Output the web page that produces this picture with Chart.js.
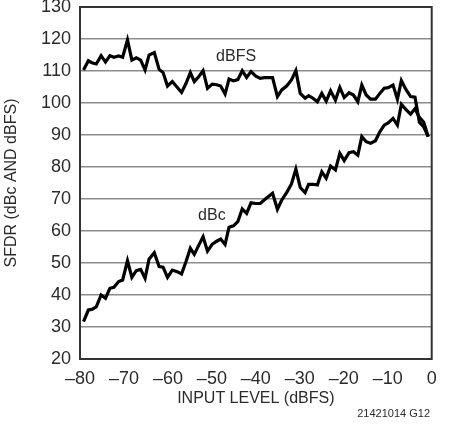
<!DOCTYPE html>
<html><head><meta charset="utf-8">
<script src="https://cdn.jsdelivr.net/npm/chart.js@4.4.1/dist/chart.umd.min.js"></script>
<style>html,body{margin:0;padding:0;background:#fff}#wrap{width:451px;height:425px;position:relative}</style>
</head><body><div id="wrap"><canvas id="c" width="451" height="425"></canvas></div>
<script>
const inputLevel = [-79.2,-78.1,-77.3,-76.3,-75.2,-74.2,-73.2,-72.3,-71.2,-70.3,
  -69.2,-68.2,-67.2,-66.2,-65.2,-64.3,-63.1,-62.0,-61.1,-60.1,
  -59.0,-57.9,-56.9,-55.9,-54.9,-54.0,-53.0,-52.0,-51.0,-49.9,
  -48.9,-48.0,-47.0,-46.1,-45.1,-44.1,-43.1,-42.1,-41.1,-40.0,
  -39.0,-38.1,-37.2,-36.2,-35.1,-34.1,-33.0,-31.9,-30.9,-29.9,
  -28.8,-28.0,-27.0,-26.0,-25.0,-24.0,-23.0,-21.9,-20.9,-19.9,
  -18.8,-17.8,-16.8,-15.9,-14.9,-13.9,-12.8,-11.8,-10.8,-9.9,
  -8.8,-7.8,-6.9,-5.9,-4.8,-3.8,-2.8,-1.8,-0.8];
const sfdrDBFS = [110.3,113.2,112.6,112.2,114.8,112.8,114.8,114.3,114.7,114.3,
  119.7,113.4,114.1,113.4,110.3,115.0,115.8,110.5,109.5,105.3,
  106.7,104.9,103.3,106.1,109.5,106.7,108.2,110.1,104.6,105.9,
  105.7,105.3,102.8,107.5,106.9,107.3,110.1,108.0,109.8,108.4,
  107.7,107.9,107.9,107.9,102.0,104.1,105.3,107.2,110.1,103.0,
  101.5,102.3,101.5,100.4,103.0,100.6,103.8,100.9,104.9,101.7,
  103.2,102.5,100.4,105.6,102.5,101.2,101.2,103.0,104.6,104.8,
  105.6,101.2,107.0,104.3,102.0,101.8,94.0,92.5,89.5];
const sfdrDBc = [31.7,35.3,35.5,36.3,40.0,39.0,42.1,42.4,44.2,44.7,
  50.7,45.5,47.6,48.0,45.2,51.2,53.2,48.9,48.7,45.5,
  47.8,47.3,46.6,50.4,54.6,52.7,55.5,58.2,53.7,55.9,
  56.8,57.5,55.8,61.2,61.6,62.9,66.9,65.5,68.8,68.6,
  68.6,69.7,70.7,71.8,66.8,69.7,72.0,74.7,79.3,73.6,
  72.0,74.6,74.6,74.4,78.5,76.5,80.3,79.1,84.3,82.0,
  84.5,84.8,83.7,89.5,87.9,87.4,88.2,91.0,93.1,93.8,
  95.2,93.1,99.6,98.0,96.5,98.2,95.5,94.0,89.5];
const xTickValues = [-80,-70,-60,-50,-40,-30,-20,-10,0];
const xTickLabels = ['\u201380','\u201370','\u201360','\u201350','\u201340','\u201330','\u201320','\u201310','0'];
const yTickValues = [20,30,40,50,60,70,80,90,100,110,120,130];
const seriesNames = ['dBFS','dBc'];
const xTitle = 'INPUT LEVEL (dBFS)';
const yTitle = 'SFDR (dBc AND dBFS)';
const figureCode = '21421014 G12';

const FONT = "'Liberation Sans',Arial,sans-serif";
const TXT = '#2b2b2b';

function pts(ys){ return inputLevel.map((x,i)=>({x:x,y:ys[i]})); }

const extras = {
  id:'extras',
  afterDraw(chart){
    const {ctx, chartArea:a, scales:{x,y}} = chart;
    ctx.save();
    ctx.strokeStyle = '#333';
    ctx.lineWidth = 2;
    ctx.strokeRect(a.left, a.top, a.right-a.left, a.bottom-a.top);
    ctx.fillStyle = TXT;
    ctx.font = "16px " + FONT;
    ctx.textAlign = 'center';
    ctx.textBaseline = 'middle';
    ctx.fillText(seriesNames[0], x.getPixelForValue(-44.5), y.getPixelForValue(114.5));
    ctx.fillText(seriesNames[1], x.getPixelForValue(-50), y.getPixelForValue(64.7));
    ctx.font = "11px " + FONT;
    ctx.textAlign = 'right';
    ctx.fillText(figureCode, 430, 414);
    ctx.restore();
  }
};

new Chart(document.getElementById('c'), {
  type:'line',
  data:{datasets:[
    {label:seriesNames[0], data:pts(sfdrDBFS), borderColor:'#000', borderWidth:3.2, pointRadius:0, tension:0, fill:false},
    {label:seriesNames[1], data:pts(sfdrDBc), borderColor:'#000', borderWidth:3.2, pointRadius:0, tension:0, fill:false}
  ]},
  options:{
    responsive:false, animation:false, devicePixelRatio:1,
    layout:{padding:{left:0,right:19.3,top:7,bottom:0}},
    plugins:{legend:{display:false}, tooltip:{enabled:false}},
    elements:{line:{borderJoinStyle:'miter', borderCapStyle:'butt'}},
    scales:{
      x:{type:'linear', min:-80, max:0,
        afterBuildTicks(s){ s.ticks = xTickValues.map(v=>({value:v})); },
        afterFit(s){ s.height = 66; s.paddingLeft = 0; s.paddingRight = 0; },
        grid:{display:false, drawTicks:false},
        border:{display:false},
        ticks:{padding:9, color:TXT, font:{family:FONT,size:18}, maxRotation:0, autoSkip:false,
          callback:(v)=>{const i=xTickValues.indexOf(v); return i>=0?xTickLabels[i]:'';}},
        title:{display:true, text:xTitle, color:TXT, font:{family:FONT,size:16}, padding:{top:0,bottom:16.4}}
      },
      y:{type:'linear', min:20, max:130,
        afterBuildTicks(s){ s.ticks = yTickValues.map(v=>({value:v})); },
        afterFit(s){ s.width = 80; s.paddingTop = 0; s.paddingBottom = 0; },
        grid:{color:'#8c8c8c', lineWidth:1.5, drawTicks:false},
        border:{display:false},
        ticks:{padding:9, color:TXT, font:{family:FONT,size:18}, autoSkip:false},
        title:{display:true, text:yTitle, color:TXT, font:{family:FONT,size:16}, padding:{top:2.4,bottom:0}}
      }
    }
  },
  plugins:[extras]
});
</script></body></html>
